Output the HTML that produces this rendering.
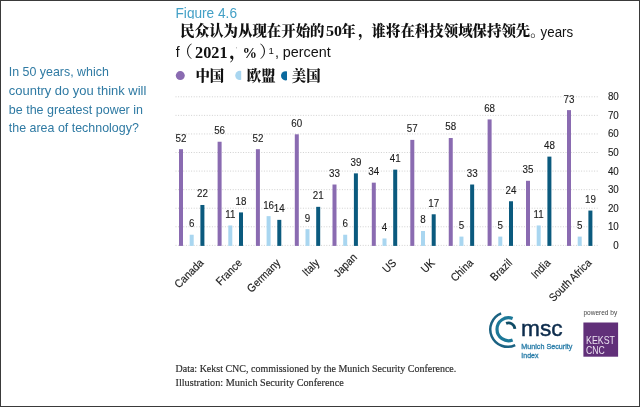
<!DOCTYPE html>
<html lang="zh"><head><meta charset="utf-8"><title>Figure 4.6</title>
<style>
html,body{margin:0;padding:0;background:#fff;}
body{width:640px;height:407px;overflow:hidden;position:relative;font-family:"Liberation Sans",sans-serif;}
#chart{position:absolute;left:0;top:0;}
.abs{position:absolute;white-space:nowrap;}
.cn{font-family:"Liberation Serif","Noto Serif CJK SC",serif;font-weight:bold;color:#111;}
.frame{position:absolute;left:0;top:0;width:638px;height:405px;border-style:solid;border-color:#3a3a3a;border-width:1px 1.5px 1.5px 1px;box-sizing:content-box;pointer-events:none;}
</style></head><body>
<div id="chart"><svg width="640" height="407" viewBox="0 0 640 407">
<rect x="0" y="0" width="640" height="407" fill="#fff"/>
<line x1="175.5" x2="598" y1="96.80" y2="96.80" stroke="#d0d0d0" stroke-width="1" stroke-dasharray="1 1.6"/>
<text transform="translate(618.8 100.30) scale(0.97 1)" text-anchor="end" font-size="10.1" fill="#1c1c1c" stroke="#1c1c1c" stroke-width="0.12" font-family='"Liberation Sans", sans-serif'>80</text>
<line x1="175.5" x2="598" y1="115.37" y2="115.37" stroke="#d0d0d0" stroke-width="1" stroke-dasharray="1 1.6"/>
<text transform="translate(618.8 118.87) scale(0.97 1)" text-anchor="end" font-size="10.1" fill="#1c1c1c" stroke="#1c1c1c" stroke-width="0.12" font-family='"Liberation Sans", sans-serif'>70</text>
<line x1="175.5" x2="598" y1="133.94" y2="133.94" stroke="#d0d0d0" stroke-width="1" stroke-dasharray="1 1.6"/>
<text transform="translate(618.8 137.44) scale(0.97 1)" text-anchor="end" font-size="10.1" fill="#1c1c1c" stroke="#1c1c1c" stroke-width="0.12" font-family='"Liberation Sans", sans-serif'>60</text>
<line x1="175.5" x2="598" y1="152.51" y2="152.51" stroke="#d0d0d0" stroke-width="1" stroke-dasharray="1 1.6"/>
<text transform="translate(618.8 156.01) scale(0.97 1)" text-anchor="end" font-size="10.1" fill="#1c1c1c" stroke="#1c1c1c" stroke-width="0.12" font-family='"Liberation Sans", sans-serif'>50</text>
<line x1="175.5" x2="598" y1="171.08" y2="171.08" stroke="#d0d0d0" stroke-width="1" stroke-dasharray="1 1.6"/>
<text transform="translate(618.8 174.58) scale(0.97 1)" text-anchor="end" font-size="10.1" fill="#1c1c1c" stroke="#1c1c1c" stroke-width="0.12" font-family='"Liberation Sans", sans-serif'>40</text>
<line x1="175.5" x2="598" y1="189.65" y2="189.65" stroke="#d0d0d0" stroke-width="1" stroke-dasharray="1 1.6"/>
<text transform="translate(618.8 193.15) scale(0.97 1)" text-anchor="end" font-size="10.1" fill="#1c1c1c" stroke="#1c1c1c" stroke-width="0.12" font-family='"Liberation Sans", sans-serif'>30</text>
<line x1="175.5" x2="598" y1="208.22" y2="208.22" stroke="#d0d0d0" stroke-width="1" stroke-dasharray="1 1.6"/>
<text transform="translate(618.8 211.72) scale(0.97 1)" text-anchor="end" font-size="10.1" fill="#1c1c1c" stroke="#1c1c1c" stroke-width="0.12" font-family='"Liberation Sans", sans-serif'>20</text>
<line x1="175.5" x2="598" y1="226.79" y2="226.79" stroke="#d0d0d0" stroke-width="1" stroke-dasharray="1 1.6"/>
<text transform="translate(618.8 230.29) scale(0.97 1)" text-anchor="end" font-size="10.1" fill="#1c1c1c" stroke="#1c1c1c" stroke-width="0.12" font-family='"Liberation Sans", sans-serif'>10</text>
<line x1="175.5" x2="598" y1="245.36" y2="245.36" stroke="#d0d0d0" stroke-width="1" stroke-dasharray="1 1.6"/>
<text transform="translate(618.8 248.86) scale(0.97 1)" text-anchor="end" font-size="10.1" fill="#1c1c1c" stroke="#1c1c1c" stroke-width="0.12" font-family='"Liberation Sans", sans-serif'>0</text>
<rect x="179.00" y="149.18" width="4.0" height="96.72" fill="#8a6bb1"/>
<text transform="translate(181.00 141.58) scale(0.97 1)" text-anchor="middle" font-size="10.1" fill="#1c1c1c" stroke="#1c1c1c" stroke-width="0.12" font-family='"Liberation Sans", sans-serif'>52</text>
<rect x="189.70" y="234.74" width="4.0" height="11.16" fill="#a9d6f0"/>
<text transform="translate(191.70 227.14) scale(0.97 1)" text-anchor="middle" font-size="10.1" fill="#1c1c1c" stroke="#1c1c1c" stroke-width="0.12" font-family='"Liberation Sans", sans-serif'>6</text>
<rect x="200.40" y="204.98" width="4.0" height="40.92" fill="#0b5a7e"/>
<text transform="translate(202.40 197.38) scale(0.97 1)" text-anchor="middle" font-size="10.1" fill="#1c1c1c" stroke="#1c1c1c" stroke-width="0.12" font-family='"Liberation Sans", sans-serif'>22</text>
<text transform="translate(204.20 263.60) rotate(-45) scale(0.9 1)" text-anchor="end" font-size="11.3" fill="#1c1c1c" stroke="#1c1c1c" stroke-width="0.15" font-family='"Liberation Sans", sans-serif'>Canada</text>
<rect x="217.60" y="141.74" width="4.0" height="104.16" fill="#8a6bb1"/>
<text transform="translate(219.60 134.14) scale(0.97 1)" text-anchor="middle" font-size="10.1" fill="#1c1c1c" stroke="#1c1c1c" stroke-width="0.12" font-family='"Liberation Sans", sans-serif'>56</text>
<rect x="228.30" y="225.44" width="4.0" height="20.46" fill="#a9d6f0"/>
<text transform="translate(230.30 217.84) scale(0.97 1)" text-anchor="middle" font-size="10.1" fill="#1c1c1c" stroke="#1c1c1c" stroke-width="0.12" font-family='"Liberation Sans", sans-serif'>11</text>
<rect x="239.00" y="212.42" width="4.0" height="33.48" fill="#0b5a7e"/>
<text transform="translate(241.00 204.82) scale(0.97 1)" text-anchor="middle" font-size="10.1" fill="#1c1c1c" stroke="#1c1c1c" stroke-width="0.12" font-family='"Liberation Sans", sans-serif'>18</text>
<text transform="translate(242.80 263.60) rotate(-45) scale(0.9 1)" text-anchor="end" font-size="11.3" fill="#1c1c1c" stroke="#1c1c1c" stroke-width="0.15" font-family='"Liberation Sans", sans-serif'>France</text>
<rect x="255.90" y="149.18" width="4.0" height="96.72" fill="#8a6bb1"/>
<text transform="translate(257.90 141.58) scale(0.97 1)" text-anchor="middle" font-size="10.1" fill="#1c1c1c" stroke="#1c1c1c" stroke-width="0.12" font-family='"Liberation Sans", sans-serif'>52</text>
<rect x="266.60" y="216.14" width="4.0" height="29.76" fill="#a9d6f0"/>
<text transform="translate(268.60 208.54) scale(0.97 1)" text-anchor="middle" font-size="10.1" fill="#1c1c1c" stroke="#1c1c1c" stroke-width="0.12" font-family='"Liberation Sans", sans-serif'>16</text>
<rect x="277.30" y="219.86" width="4.0" height="26.04" fill="#0b5a7e"/>
<text transform="translate(279.30 212.26) scale(0.97 1)" text-anchor="middle" font-size="10.1" fill="#1c1c1c" stroke="#1c1c1c" stroke-width="0.12" font-family='"Liberation Sans", sans-serif'>14</text>
<text transform="translate(281.10 263.60) rotate(-45) scale(0.9 1)" text-anchor="end" font-size="11.3" fill="#1c1c1c" stroke="#1c1c1c" stroke-width="0.15" font-family='"Liberation Sans", sans-serif'>Germany</text>
<rect x="294.80" y="134.30" width="4.0" height="111.60" fill="#8a6bb1"/>
<text transform="translate(296.80 126.70) scale(0.97 1)" text-anchor="middle" font-size="10.1" fill="#1c1c1c" stroke="#1c1c1c" stroke-width="0.12" font-family='"Liberation Sans", sans-serif'>60</text>
<rect x="305.50" y="229.16" width="4.0" height="16.74" fill="#a9d6f0"/>
<text transform="translate(307.50 221.56) scale(0.97 1)" text-anchor="middle" font-size="10.1" fill="#1c1c1c" stroke="#1c1c1c" stroke-width="0.12" font-family='"Liberation Sans", sans-serif'>9</text>
<rect x="316.20" y="206.84" width="4.0" height="39.06" fill="#0b5a7e"/>
<text transform="translate(318.20 199.24) scale(0.97 1)" text-anchor="middle" font-size="10.1" fill="#1c1c1c" stroke="#1c1c1c" stroke-width="0.12" font-family='"Liberation Sans", sans-serif'>21</text>
<text transform="translate(320.00 263.60) rotate(-45) scale(0.9 1)" text-anchor="end" font-size="11.3" fill="#1c1c1c" stroke="#1c1c1c" stroke-width="0.15" font-family='"Liberation Sans", sans-serif'>Italy</text>
<rect x="332.50" y="184.52" width="4.0" height="61.38" fill="#8a6bb1"/>
<text transform="translate(334.50 176.92) scale(0.97 1)" text-anchor="middle" font-size="10.1" fill="#1c1c1c" stroke="#1c1c1c" stroke-width="0.12" font-family='"Liberation Sans", sans-serif'>33</text>
<rect x="343.20" y="234.74" width="4.0" height="11.16" fill="#a9d6f0"/>
<text transform="translate(345.20 227.14) scale(0.97 1)" text-anchor="middle" font-size="10.1" fill="#1c1c1c" stroke="#1c1c1c" stroke-width="0.12" font-family='"Liberation Sans", sans-serif'>6</text>
<rect x="353.90" y="173.36" width="4.0" height="72.54" fill="#0b5a7e"/>
<text transform="translate(355.90 165.76) scale(0.97 1)" text-anchor="middle" font-size="10.1" fill="#1c1c1c" stroke="#1c1c1c" stroke-width="0.12" font-family='"Liberation Sans", sans-serif'>39</text>
<text transform="translate(357.70 258.10) rotate(-45) scale(0.9 1)" text-anchor="end" font-size="11.3" fill="#1c1c1c" stroke="#1c1c1c" stroke-width="0.15" font-family='"Liberation Sans", sans-serif'>Japan</text>
<rect x="371.80" y="182.66" width="4.0" height="63.24" fill="#8a6bb1"/>
<text transform="translate(373.80 175.06) scale(0.97 1)" text-anchor="middle" font-size="10.1" fill="#1c1c1c" stroke="#1c1c1c" stroke-width="0.12" font-family='"Liberation Sans", sans-serif'>34</text>
<rect x="382.50" y="238.46" width="4.0" height="7.44" fill="#a9d6f0"/>
<text transform="translate(384.50 230.86) scale(0.97 1)" text-anchor="middle" font-size="10.1" fill="#1c1c1c" stroke="#1c1c1c" stroke-width="0.12" font-family='"Liberation Sans", sans-serif'>4</text>
<rect x="393.20" y="169.64" width="4.0" height="76.26" fill="#0b5a7e"/>
<text transform="translate(395.20 162.04) scale(0.97 1)" text-anchor="middle" font-size="10.1" fill="#1c1c1c" stroke="#1c1c1c" stroke-width="0.12" font-family='"Liberation Sans", sans-serif'>41</text>
<text transform="translate(397.00 263.60) rotate(-45) scale(0.9 1)" text-anchor="end" font-size="11.3" fill="#1c1c1c" stroke="#1c1c1c" stroke-width="0.15" font-family='"Liberation Sans", sans-serif'>US</text>
<rect x="410.30" y="139.88" width="4.0" height="106.02" fill="#8a6bb1"/>
<text transform="translate(412.30 132.28) scale(0.97 1)" text-anchor="middle" font-size="10.1" fill="#1c1c1c" stroke="#1c1c1c" stroke-width="0.12" font-family='"Liberation Sans", sans-serif'>57</text>
<rect x="421.00" y="231.02" width="4.0" height="14.88" fill="#a9d6f0"/>
<text transform="translate(423.00 223.42) scale(0.97 1)" text-anchor="middle" font-size="10.1" fill="#1c1c1c" stroke="#1c1c1c" stroke-width="0.12" font-family='"Liberation Sans", sans-serif'>8</text>
<rect x="431.70" y="214.28" width="4.0" height="31.62" fill="#0b5a7e"/>
<text transform="translate(433.70 206.68) scale(0.97 1)" text-anchor="middle" font-size="10.1" fill="#1c1c1c" stroke="#1c1c1c" stroke-width="0.12" font-family='"Liberation Sans", sans-serif'>17</text>
<text transform="translate(435.50 263.60) rotate(-45) scale(0.9 1)" text-anchor="end" font-size="11.3" fill="#1c1c1c" stroke="#1c1c1c" stroke-width="0.15" font-family='"Liberation Sans", sans-serif'>UK</text>
<rect x="448.75" y="138.02" width="4.0" height="107.88" fill="#8a6bb1"/>
<text transform="translate(450.75 130.42) scale(0.97 1)" text-anchor="middle" font-size="10.1" fill="#1c1c1c" stroke="#1c1c1c" stroke-width="0.12" font-family='"Liberation Sans", sans-serif'>58</text>
<rect x="459.45" y="236.60" width="4.0" height="9.30" fill="#a9d6f0"/>
<text transform="translate(461.45 229.00) scale(0.97 1)" text-anchor="middle" font-size="10.1" fill="#1c1c1c" stroke="#1c1c1c" stroke-width="0.12" font-family='"Liberation Sans", sans-serif'>5</text>
<rect x="470.15" y="184.52" width="4.0" height="61.38" fill="#0b5a7e"/>
<text transform="translate(472.15 176.92) scale(0.97 1)" text-anchor="middle" font-size="10.1" fill="#1c1c1c" stroke="#1c1c1c" stroke-width="0.12" font-family='"Liberation Sans", sans-serif'>33</text>
<text transform="translate(473.95 263.60) rotate(-45) scale(0.9 1)" text-anchor="end" font-size="11.3" fill="#1c1c1c" stroke="#1c1c1c" stroke-width="0.15" font-family='"Liberation Sans", sans-serif'>China</text>
<rect x="487.60" y="119.42" width="4.0" height="126.48" fill="#8a6bb1"/>
<text transform="translate(489.60 111.82) scale(0.97 1)" text-anchor="middle" font-size="10.1" fill="#1c1c1c" stroke="#1c1c1c" stroke-width="0.12" font-family='"Liberation Sans", sans-serif'>68</text>
<rect x="498.30" y="236.60" width="4.0" height="9.30" fill="#a9d6f0"/>
<text transform="translate(500.30 229.00) scale(0.97 1)" text-anchor="middle" font-size="10.1" fill="#1c1c1c" stroke="#1c1c1c" stroke-width="0.12" font-family='"Liberation Sans", sans-serif'>5</text>
<rect x="509.00" y="201.26" width="4.0" height="44.64" fill="#0b5a7e"/>
<text transform="translate(511.00 193.66) scale(0.97 1)" text-anchor="middle" font-size="10.1" fill="#1c1c1c" stroke="#1c1c1c" stroke-width="0.12" font-family='"Liberation Sans", sans-serif'>24</text>
<text transform="translate(512.80 263.60) rotate(-45) scale(0.9 1)" text-anchor="end" font-size="11.3" fill="#1c1c1c" stroke="#1c1c1c" stroke-width="0.15" font-family='"Liberation Sans", sans-serif'>Brazil</text>
<rect x="526.00" y="180.80" width="4.0" height="65.10" fill="#8a6bb1"/>
<text transform="translate(528.00 173.20) scale(0.97 1)" text-anchor="middle" font-size="10.1" fill="#1c1c1c" stroke="#1c1c1c" stroke-width="0.12" font-family='"Liberation Sans", sans-serif'>35</text>
<rect x="536.70" y="225.44" width="4.0" height="20.46" fill="#a9d6f0"/>
<text transform="translate(538.70 217.84) scale(0.97 1)" text-anchor="middle" font-size="10.1" fill="#1c1c1c" stroke="#1c1c1c" stroke-width="0.12" font-family='"Liberation Sans", sans-serif'>11</text>
<rect x="547.40" y="156.62" width="4.0" height="89.28" fill="#0b5a7e"/>
<text transform="translate(549.40 149.02) scale(0.97 1)" text-anchor="middle" font-size="10.1" fill="#1c1c1c" stroke="#1c1c1c" stroke-width="0.12" font-family='"Liberation Sans", sans-serif'>48</text>
<text transform="translate(551.20 263.60) rotate(-45) scale(0.9 1)" text-anchor="end" font-size="11.3" fill="#1c1c1c" stroke="#1c1c1c" stroke-width="0.15" font-family='"Liberation Sans", sans-serif'>India</text>
<rect x="567.00" y="110.12" width="4.0" height="135.78" fill="#8a6bb1"/>
<text transform="translate(569.00 102.52) scale(0.97 1)" text-anchor="middle" font-size="10.1" fill="#1c1c1c" stroke="#1c1c1c" stroke-width="0.12" font-family='"Liberation Sans", sans-serif'>73</text>
<rect x="577.70" y="236.60" width="4.0" height="9.30" fill="#a9d6f0"/>
<text transform="translate(579.70 229.00) scale(0.97 1)" text-anchor="middle" font-size="10.1" fill="#1c1c1c" stroke="#1c1c1c" stroke-width="0.12" font-family='"Liberation Sans", sans-serif'>5</text>
<rect x="588.40" y="210.56" width="4.0" height="35.34" fill="#0b5a7e"/>
<text transform="translate(590.40 202.96) scale(0.97 1)" text-anchor="middle" font-size="10.1" fill="#1c1c1c" stroke="#1c1c1c" stroke-width="0.12" font-family='"Liberation Sans", sans-serif'>19</text>
<text transform="translate(592.20 263.60) rotate(-45) scale(0.9 1)" text-anchor="end" font-size="11.3" fill="#1c1c1c" stroke="#1c1c1c" stroke-width="0.15" font-family='"Liberation Sans", sans-serif'>South Africa</text>
</svg></div>
<!-- left question -->
<svg class="abs" style="left:0;top:0" width="640" height="407" viewBox="0 0 640 407">
<g font-family='"Liberation Sans", sans-serif' font-size="13.5" fill="#2f7aa3">
<text x="8.8" y="76.3" textLength="100" lengthAdjust="spacingAndGlyphs">In 50 years, which</text>
<text x="8.8" y="95" textLength="137.5" lengthAdjust="spacingAndGlyphs">country do you think will</text>
<text x="8.8" y="113.7" textLength="134.2" lengthAdjust="spacingAndGlyphs">be the greatest power in</text>
<text x="8.8" y="132.2" textLength="130" lengthAdjust="spacingAndGlyphs">the area of technology?</text>
</g>
<!-- figure label -->
<text x="175.5" y="18" font-family='"Liberation Sans", sans-serif' font-size="14" fill="#43a0c6" textLength="61.5" lengthAdjust="spacingAndGlyphs">Figure 4.6</text>
<rect x="172" y="18.8" width="420" height="22" fill="#fff"/>
<!-- title line 1 -->
<text y="36.3" font-family='"Liberation Serif","Noto Serif CJK SC",serif' font-weight="900" font-size="14.43" fill="#111"><tspan x="180.3">民众认为从现在开始的</tspan><tspan x="325.9" textLength="16" lengthAdjust="spacingAndGlyphs">50</tspan><tspan x="341.3">年</tspan><tspan x="358.2">，</tspan><tspan x="371.6">谁将在科技领域保持领先。</tspan></text>
<text x="540.6" y="37" font-family='"Liberation Sans", sans-serif' font-size="14" fill="#111" textLength="32.5" lengthAdjust="spacingAndGlyphs">years</text>
<!-- title line 2 -->
<text x="175.8" y="57.2" font-family='"Liberation Sans", sans-serif' font-size="14" fill="#111">f</text>
<text y="57.8" font-family='"Liberation Serif","Noto Serif CJK SC",serif' font-weight="900" font-size="16.5" fill="#111"><tspan x="176.3" font-weight="400">（</tspan><tspan x="195" textLength="32.6" lengthAdjust="spacingAndGlyphs">2021</tspan><tspan x="229.4">，</tspan><tspan x="242.6" font-weight="700" font-size="14.5">%</tspan><tspan x="259.3" font-weight="400">）</tspan></text>
<text x="236" y="52" font-family='"Liberation Sans", sans-serif' font-size="7" fill="#999">'</text>
<text x="268.4" y="54" font-family='"Liberation Sans", sans-serif' font-size="9.6" fill="#111">1</text>
<text x="274.9" y="57" font-family='"Liberation Sans", sans-serif' font-size="14" fill="#111" textLength="55.8" lengthAdjust="spacingAndGlyphs">, percent</text>
<!-- legend -->
<circle cx="180.3" cy="75.6" r="4.5" fill="#8a6bb1"/>
<circle cx="239.8" cy="75.4" r="4.6" fill="#a9d6f0"/>
<rect x="241.2" y="66" width="38" height="20" fill="#fff"/>
<circle cx="285.6" cy="75.8" r="4.6" fill="#0b6a9e"/>
<rect x="287" y="66" width="38" height="20" fill="#fff"/>
<g font-family='"Liberation Serif","Noto Serif CJK SC",serif' font-weight="900" font-size="14.43" fill="#111">
<text x="195.4" y="81.2">中国</text>
<text x="246.8" y="81.2">欧盟</text>
<text x="291.8" y="81.2">美国</text>
</g>
<!-- footer -->
<g font-family='"Liberation Serif", serif' font-size="10.7" fill="#2e2e2e" stroke="#2e2e2e" stroke-width="0.18">
<text x="175.5" y="372.1" textLength="280.8" lengthAdjust="spacingAndGlyphs">Data: Kekst CNC, commissioned by the Munich Security Conference.</text>
<text x="175.5" y="385.5" textLength="168.2" lengthAdjust="spacingAndGlyphs">Illustration: Munich Security Conference</text>
</g>
<!-- msc logo -->
<g fill="none" stroke-linecap="butt">
<path d="M 501.12 313.46 A 17.3 17.3 0 1 0 515.18 345.05" stroke="#1b6282" stroke-width="2.5"/>
<path d="M 512.62 318.46 A 11.5 11.5 0 1 0 512.62 339.94" stroke="#1c7898" stroke-width="3.2"/>
<path d="M 506.10 323.37 A 6.4 6.4 0 0 1 514.88 328.85" stroke="#0f4c66" stroke-width="2.8"/>
</g>
<text x="521" y="335.6" font-family='"Liberation Sans", sans-serif' font-size="22" fill="#0d2c4c" stroke="#0d2c4c" stroke-width="0.45" textLength="41.6" lengthAdjust="spacingAndGlyphs">msc</text>
<g font-family='"Liberation Sans", sans-serif' font-size="7" fill="#2b7ea9" stroke="#2b7ea9" stroke-width="0.3">
<text x="521.3" y="348.8" textLength="51" lengthAdjust="spacingAndGlyphs">Munich Security</text>
<text x="521.3" y="357.6">Index</text>
</g>
<!-- kekst -->
<text x="583.4" y="314.5" font-family='"Liberation Sans", sans-serif' font-size="7.8" fill="#444" textLength="33.8" lengthAdjust="spacingAndGlyphs">powered by</text>
<rect x="583.4" y="322.5" width="34.7" height="34.2" fill="#613079"/>
<g font-family='"Liberation Sans", sans-serif' font-size="10.5" fill="#ebe2f0">
<text x="586" y="344.2" textLength="29" lengthAdjust="spacingAndGlyphs">KEKST</text>
<text x="586" y="353.7" textLength="18.7" lengthAdjust="spacingAndGlyphs">CNC</text>
</g>
</svg>

<div class="frame"></div>
</body></html>
